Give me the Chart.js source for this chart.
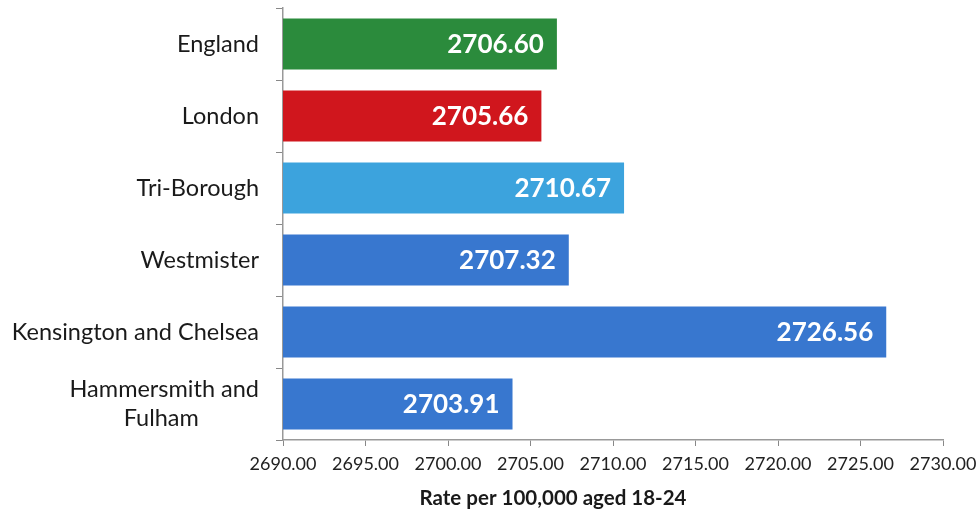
<!DOCTYPE html>
<html>
<head>
<meta charset="utf-8">
<script src="https://cdn.jsdelivr.net/npm/chart.js@4.4.1/dist/chart.umd.min.js"></script>
<style>
  body { margin: 0; background: #fff; }
  #wrap { width: 979px; height: 515px; }
</style>
</head>
<body>
<div id="wrap"><canvas id="rateChart"></canvas></div>
<script>
// Chart data
const areas = ['England', 'London', 'Tri-Borough', 'Westmister', 'Kensington and Chelsea', ['Hammersmith and', 'Fulham          ']];
const rates = [2706.60, 2705.66, 2710.67, 2707.32, 2726.56, 2703.91];
const barColours = ['#2b8b3c', '#d0161d', '#3ca3dd', '#3877cf', '#3877cf', '#3877cf'];
const axisMin = 2690;
const axisMax = 2730;
const axisStep = 5;
const axisTitle = 'Rate per 100,000 aged 18-24';

const FONT = 'Lato, "Open Sans", sans-serif';

// Value labels drawn inside the end of each bar
const valueLabels = {
    id: 'valueLabels',
    afterDatasetsDraw(chart) {
        const ctx = chart.ctx;
        const meta = chart.getDatasetMeta(0);
        ctx.save();
        ctx.font = 'bold 26px ' + FONT;
        ctx.fillStyle = '#ffffff';
        ctx.textAlign = 'right';
        ctx.textBaseline = 'middle';
        meta.data.forEach((bar, i) => {
            ctx.fillText(rates[i].toFixed(2), bar.x - 13, bar.y + 1);
        });
        ctx.restore();
    }
};

// Axis title, sitting a little left of the plot centre as in the original
const xTitle = {
    id: 'xTitle',
    afterDraw(chart) {
        const ctx = chart.ctx;
        const area = chart.chartArea;
        ctx.save();
        ctx.font = 'bold 20.5px ' + FONT;
        ctx.fillStyle = '#1a1a1a';
        ctx.textAlign = 'center';
        ctx.textBaseline = 'middle';
        ctx.fillText(axisTitle, (area.left + area.right) / 2 - 60, chart.scales.x.bottom - 17);
        ctx.restore();
    }
};

const ctx = document.getElementById('rateChart').getContext('2d');
const rateChart = new Chart(ctx, {
    type: 'bar',
    data: {
        labels: areas,
        datasets: [{
            data: rates,
            backgroundColor: barColours,
            borderWidth: 0,
            barPercentage: 0.71,
            categoryPercentage: 1.0
        }]
    },
    options: {
        indexAxis: 'y',
        responsive: true,
        maintainAspectRatio: false,
        animation: false,
        layout: {
            padding: { top: 8, right: 36, left: 0, bottom: 0 }
        },
        plugins: {
            legend: { display: false },
            tooltip: { enabled: false }
        },
        scales: {
            x: {
                min: axisMin,
                max: axisMax,
                ticks: {
                    stepSize: axisStep,
                    color: '#222',
                    font: { family: FONT, size: 18 },
                    padding: 7,
                    maxRotation: 0,
                    callback: v => v.toFixed(2)
                },
                grid: {
                    drawOnChartArea: false,
                    tickLength: 6,
                    color: '#888'
                },
                border: { color: '#999', width: 1.5 },
                afterFit(scale) {
                    scale.height = 75;
                    scale.paddingLeft = 0;
                    scale.paddingRight = 0;
                }
            },
            y: {
                ticks: {
                    color: '#1a1a1a',
                    font: { family: FONT, size: 23.5 },
                    padding: 17
                },
                grid: {
                    drawOnChartArea: false,
                    tickLength: 7,
                    color: '#888'
                },
                border: { color: '#999', width: 1.5 },
                afterFit(scale) {
                    scale.width = 283;
                    scale.paddingTop = 0;
                    scale.paddingBottom = 0;
                }
            }
        }
    },
    plugins: [valueLabels, xTitle]
});
</script>
</body>
</html>
